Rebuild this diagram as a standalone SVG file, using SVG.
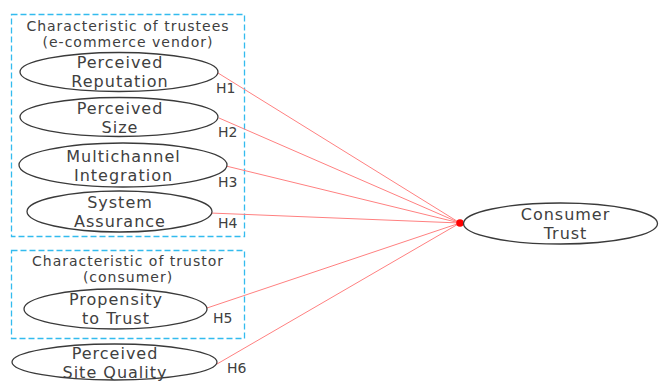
<svg xmlns="http://www.w3.org/2000/svg" width="659" height="381" viewBox="0 0 659 381">
<style>
.box{fill:none;stroke:#33bbee;stroke-width:1.3;stroke-dasharray:6,3}
.el{fill:#fff;stroke:#3a3a3a;stroke-width:1.3}
.t{font-family:"DejaVu Sans",sans-serif;font-size:16px;fill:#404040;text-anchor:middle;letter-spacing:1px}
.tt{font-family:"DejaVu Sans",sans-serif;font-size:14px;fill:#404040;text-anchor:middle;letter-spacing:1px}
.h{font-family:"DejaVu Sans",sans-serif;font-size:14px;fill:#404040}
.c{stroke:#ff8080;stroke-width:1;fill:none}
</style>
<rect width="659" height="381" fill="#fff"/>
<g id="group-trustees">
<rect class="box" x="11.5" y="14.5" width="233" height="222"/>
<text class="tt" x="128" y="30.5">Characteristic of trustees</text>
<text class="tt" x="128" y="47">(e-commerce vendor)</text>
</g>
<g id="group-trustor">
<rect class="box" x="11.5" y="250.5" width="233" height="88"/>
<text class="tt" x="128" y="265.5">Characteristic of trustor</text>
<text class="tt" x="128" y="282">(consumer)</text>
</g>
<g id="connectors">
<line class="c" x1="218" y1="73" x2="460" y2="223"/>
<line class="c" x1="219" y1="118" x2="460" y2="223"/>
<line class="c" x1="226" y1="166" x2="460" y2="223"/>
<line class="c" x1="210" y1="213" x2="460" y2="223"/>
<line class="c" x1="207" y1="308" x2="460" y2="223"/>
<line class="c" x1="217" y1="364" x2="460" y2="223"/>
<circle cx="460" cy="223" r="3.8" fill="#ff0000"/>
<text class="h" x="216" y="93">H1</text>
<text class="h" x="218" y="137">H2</text>
<text class="h" x="218" y="187">H3</text>
<text class="h" x="218" y="228">H4</text>
<text class="h" x="213" y="323">H5</text>
<text class="h" x="227" y="373">H6</text>
</g>
<g id="perceived-reputation">
<ellipse class="el" cx="119" cy="72" rx="99" ry="19.5"/>
<text class="t" x="120" y="68">Perceived</text>
<text class="t" x="120" y="87">Reputation</text>
</g>
<g id="perceived-size">
<ellipse class="el" cx="119" cy="117" rx="99" ry="19.5"/>
<text class="t" x="120" y="114">Perceived</text>
<text class="t" x="120" y="133">Size</text>
</g>
<g id="multichannel-integration">
<ellipse class="el" cx="123" cy="165" rx="104" ry="22"/>
<text class="t" x="123.5" y="161.5">Multichannel</text>
<text class="t" x="123.5" y="180.5">Integration</text>
</g>
<g id="system-assurance">
<ellipse class="el" cx="119.5" cy="211.5" rx="92.5" ry="20.5"/>
<text class="t" x="120" y="208">System</text>
<text class="t" x="120" y="227">Assurance</text>
</g>
<g id="propensity-to-trust">
<ellipse class="el" cx="115.5" cy="309" rx="91.5" ry="20"/>
<text class="t" x="116" y="304.5">Propensity</text>
<text class="t" x="116" y="323.5">to Trust</text>
</g>
<g id="perceived-site-quality">
<ellipse class="el" cx="114.5" cy="362" rx="102.5" ry="18"/>
<text class="t" x="115" y="359">Perceived</text>
<text class="t" x="115" y="378">Site Quality</text>
</g>
<g id="consumer-trust">
<ellipse class="el" cx="560.5" cy="223.5" rx="97" ry="20.5"/>
<text class="t" x="565.5" y="219.5">Consumer</text>
<text class="t" x="565.5" y="238.5">Trust</text>
</g>
</svg>
